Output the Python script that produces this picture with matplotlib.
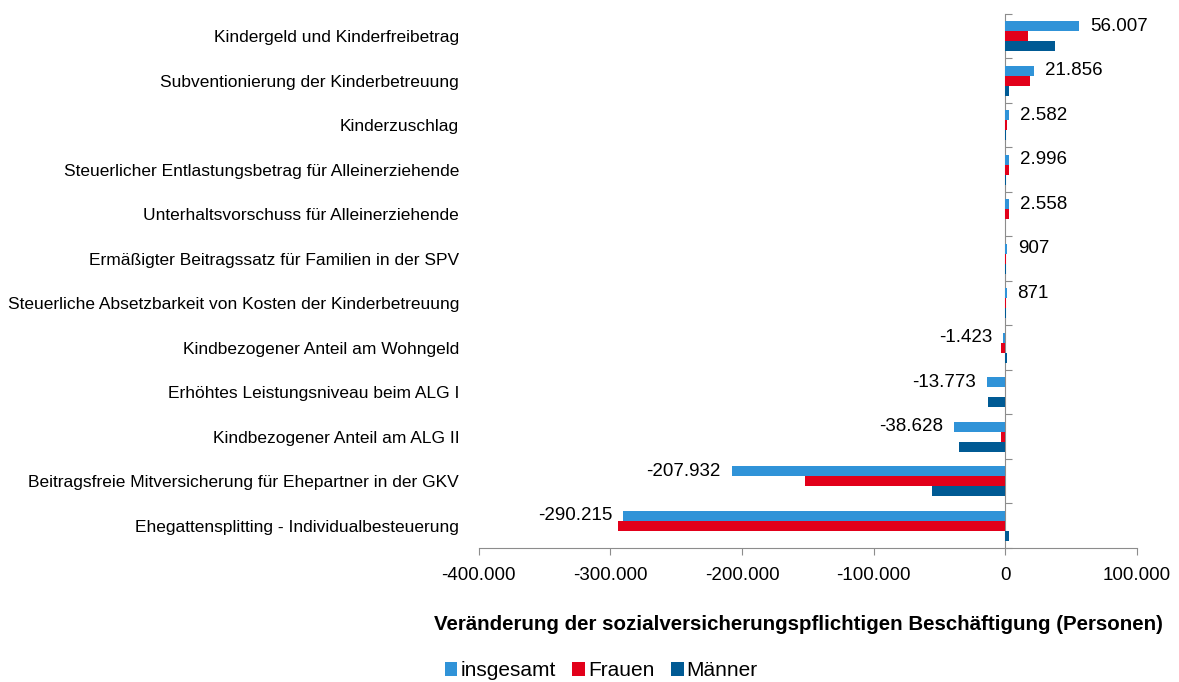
import matplotlib.pyplot as plt
import numpy as np
from matplotlib.ticker import FuncFormatter

# Kategorien von oben nach unten
kategorien = [
    'Kindergeld und Kinderfreibetrag',
    'Subventionierung der Kinderbetreuung',
    'Kinderzuschlag',
    'Steuerlicher Entlastungsbetrag für Alleinerziehende',
    'Unterhaltsvorschuss für Alleinerziehende',
    'Ermäßigter Beitragssatz für Familien in der SPV',
    'Steuerliche Absetzbarkeit von Kosten der Kinderbetreuung',
    'Kindbezogener Anteil am Wohngeld',
    'Erhöhtes Leistungsniveau beim ALG I',
    'Kindbezogener Anteil am ALG II',
    'Beitragsfreie Mitversicherung für Ehepartner in der GKV',
    'Ehegattensplitting - Individualbesteuerung',
]
insgesamt = [56007, 21856, 2582, 2996, 2558, 907, 871, -1423, -13773, -38628, -207932, -290215]
frauen = [17500, 19000, 1200, 2700, 2500, 600, 550, -3000, -300, -3200, -152000, -294000]
maenner = [37500, 2500, 300, 200, 100, 300, 300, 1600, -13500, -35500, -55500, 3000]

farben = {'insgesamt': '#3093D8', 'Frauen': '#E2001A', 'Männer': '#005A94'}

def de_fmt(v):
    return f'{int(v):,}'.replace(',', '.')

plt.rcParams['font.family'] = ['Liberation Sans', 'DejaVu Sans']

fig = plt.figure(figsize=(11.79, 6.82), dpi=100)
ax = fig.add_axes([0.406, 0.1965, 0.5584, 0.783])

y = np.arange(len(kategorien))
h = 0.225
ax.barh(y - h, insgesamt, height=h, color=farben['insgesamt'], label='insgesamt')
ax.barh(y, frauen, height=h, color=farben['Frauen'], label='Frauen')
ax.barh(y + h, maenner, height=h, color=farben['Männer'], label='Männer')

ax.set_xlim(-400000, 100000)
ax.set_ylim(len(kategorien) - 0.5, -0.5)
ax.set_xticks(np.arange(-400000, 100001, 100000))
ax.xaxis.set_major_formatter(FuncFormatter(lambda v, p: de_fmt(v)))
ax.tick_params(axis='x', length=5, color='#8C8C8C', pad=9, labelsize=13.5)

ax.set_yticks(y)
ax.set_yticklabels(kategorien, fontsize=12.5)
ax.tick_params(axis='y', length=0, pad=14)

for s in ['top', 'right', 'left']:
    ax.spines[s].set_visible(False)
ax.spines['bottom'].set_color('#8C8C8C')

# Nulllinie mit Trennstrichen zwischen den Kategorien
sec = ax.secondary_yaxis(0.8)
sec.set_yticks(np.arange(-0.5, len(kategorien), 1.0))
sec.set_yticklabels([])
sec.tick_params(axis='y', labelleft=False, labelright=False, length=5, color='#8C8C8C')
for s in sec.spines.values():
    s.set_color('#8C8C8C')

for yi, v in zip(y, insgesamt):
    off = 8 if v >= 0 else -8
    ax.annotate(de_fmt(v), (v, yi - h), xytext=(off, 0), textcoords='offset points',
                ha='left' if v >= 0 else 'right', va='center', fontsize=13.5)

ax.set_xlabel('Veränderung der sozialversicherungspflichtigen Beschäftigung (Personen)',
              fontsize=14.8, fontweight='bold', labelpad=22)
ax.xaxis.label.set_x(0.486)

fig.legend(loc='lower center', bbox_to_anchor=(0.51, -0.025), ncol=3, frameon=False,
           fontsize=15, handlelength=0.6, handleheight=0.6, handletextpad=0.15,
           columnspacing=0.8)

fig.savefig('out.png', dpi=100)
